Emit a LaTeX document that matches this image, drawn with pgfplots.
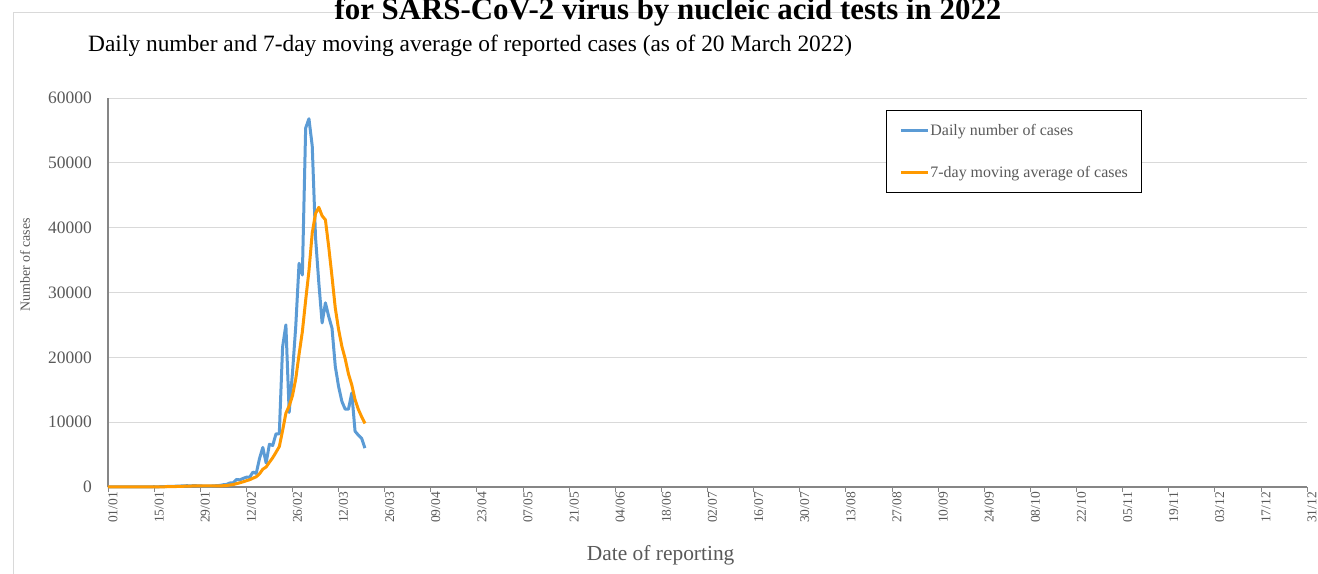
\documentclass[border=0pt]{standalone}
\usepackage{fontspec}
\setmainfont{Liberation Serif}
\usepackage{pgfplots}
\usepackage{pgfplotstable}
\pgfplotsset{compat=1.18}
\definecolor{cblue}{HTML}{5B9BD5}
\definecolor{corange}{HTML}{FF9900}
\definecolor{tgray}{HTML}{595959}
\definecolor{agray}{HTML}{868686}
\definecolor{ggray}{HTML}{D9D9D9}
\pgfplotstableread{
d daily avg
0 15 10.7
1 10 10.7
2 20 12.1
3 15 12.9
4 25 15.0
5 20 16.4
6 15 17.1
7 30 19.3
8 25 21.4
9 20 21.4
10 30 23.6
11 25 23.6
12 20 23.6
13 35 26.4
14 40 27.9
15 30 28.6
16 45 32.1
17 60 36.4
18 80 44.3
19 100 55.7
20 110 66.4
21 130 79.3
22 150 96.4
23 180 115.7
24 200 135.7
25 170 148.6
26 210 164.3
27 190 175.7
28 160 180.0
29 150 180.0
30 130 172.9
31 120 161.4
32 180 162.9
33 200 161.4
34 250 170.0
35 350 197.1
36 400 232.9
37 620 302.9
38 630 375.7
39 1160 515.7
40 1100 644.3
41 1320 797.1
42 1510 962.9
43 1500 1120.0
44 2300 1360.0
45 2100 1570.0
46 4400 2032.9
47 6100 2747.1
48 3700 3087.1
49 6600 3814.3
50 6400 4514.3
51 8200 5357.1
52 8200 6228.6
53 21600 8685.7
54 25000 11385.7
55 11500 12500.0
56 17600 14071.4
57 24800 16700.0
58 34500 20457.1
59 32700 23957.1
60 55350 28778.6
61 56800 33321.4
62 52600 39192.9
63 38500 42178.6
64 31500 43135.7
65 25300 41821.4
66 28400 41207.1
67 26300 37057.1
68 24500 32442.9
69 18600 27585.7
70 15500 24300.0
71 13200 21685.7
72 12000 19785.7
73 12000 17442.9
74 14500 15757.1
75 8600 13485.7
76 8000 11971.4
77 7500 10828.6
78 6000 9800.0
}\casedata

\begin{document}
\begin{tikzpicture}[x=1bp,y=1bp]
\useasboundingbox (-108,-87) rectangle (1210,487);
\draw[ggray, line width=0.9bp] (-95,-95) -- (-95,475) -- (1222,475);
\node[font=\fontsize{31}{31}\selectfont\bfseries, anchor=base, inner sep=0pt] at (560,467) {for SARS-CoV-2 virus by nucleic acid tests in 2022};
\node[font=\fontsize{23.5}{23.5}\selectfont, anchor=base west, inner sep=0pt] at (-20,435) {Daily number and 7-day moving average of reported cases (as of 20 March 2022)};
\begin{axis}[
  anchor=origin, at={(0bp,0bp)}, scale only axis,
  width=1199bp, height=389bp,
  xmin=0, xmax=364, ymin=0, ymax=60000,
  clip=false,
  axis x line*=bottom, axis y line*=left,
  axis line style={agray, line width=1.3bp},
  xtick={0,14,...,364},
  xticklabels={01/01,15/01,29/01,12/02,26/02,12/03,26/03,09/04,23/04,07/05,21/05,04/06,18/06,02/07,16/07,30/07,13/08,27/08,10/09,24/09,08/10,22/10,05/11,19/11,03/12,17/12,31/12},
  ytick={0,10000,...,60000},
  ymajorgrids, grid style={ggray, line width=0.9bp},
  tick align=outside, major tick length=5bp,
  xtick style={agray, line width=0.9bp}, ytick style={draw=none},
  xticklabel style={rotate=90, anchor=east, font=\fontsize{13.5}{13.5}\selectfont, text=tgray, inner sep=0pt, yshift=-5bp},
  yticklabel style={font=\fontsize{17.5}{17.5}\selectfont, text=tgray, inner sep=0pt, xshift=-11bp},
  /pgf/number format/assume math mode=true,
  /pgf/number format/set thousands separator={},
  scaled y ticks=false,
  xlabel={Date of reporting},
  xlabel style={at={(axis description cs:0.4609,-0.190)}, anchor=base, font=\fontsize{21.5}{21.5}\selectfont, text=tgray, inner sep=0pt},
  ylabel={Number of cases},
  ylabel style={at={(axis description cs:-0.0691,0.5707)}, anchor=center, font=\fontsize{14}{14}\selectfont, text=tgray, inner sep=0pt},
  legend style={at={(axis description cs:0.6489,0.9692)}, anchor=north west, draw=black, line width=0.75bp, fill=white, font=\fontsize{16}{16}\selectfont, text=tgray, inner xsep=13bp, inner ysep=12.5bp, row sep=28bp, nodes={inner sep=1bp}},
  legend cell align=left,
  legend image code/.code={\draw[#1, line width=3bp] (0bp,0bp) -- (27bp,0bp);},
]
\addplot[cblue, line width=3bp, line join=round] table[x=d, y=daily] {\casedata};
\addlegendentry{Daily number of cases}
\addplot[corange, line width=3bp, line join=round] table[x=d, y=avg] {\casedata};
\addlegendentry{7-day moving average of cases}
\end{axis}
\end{tikzpicture}
\end{document}
